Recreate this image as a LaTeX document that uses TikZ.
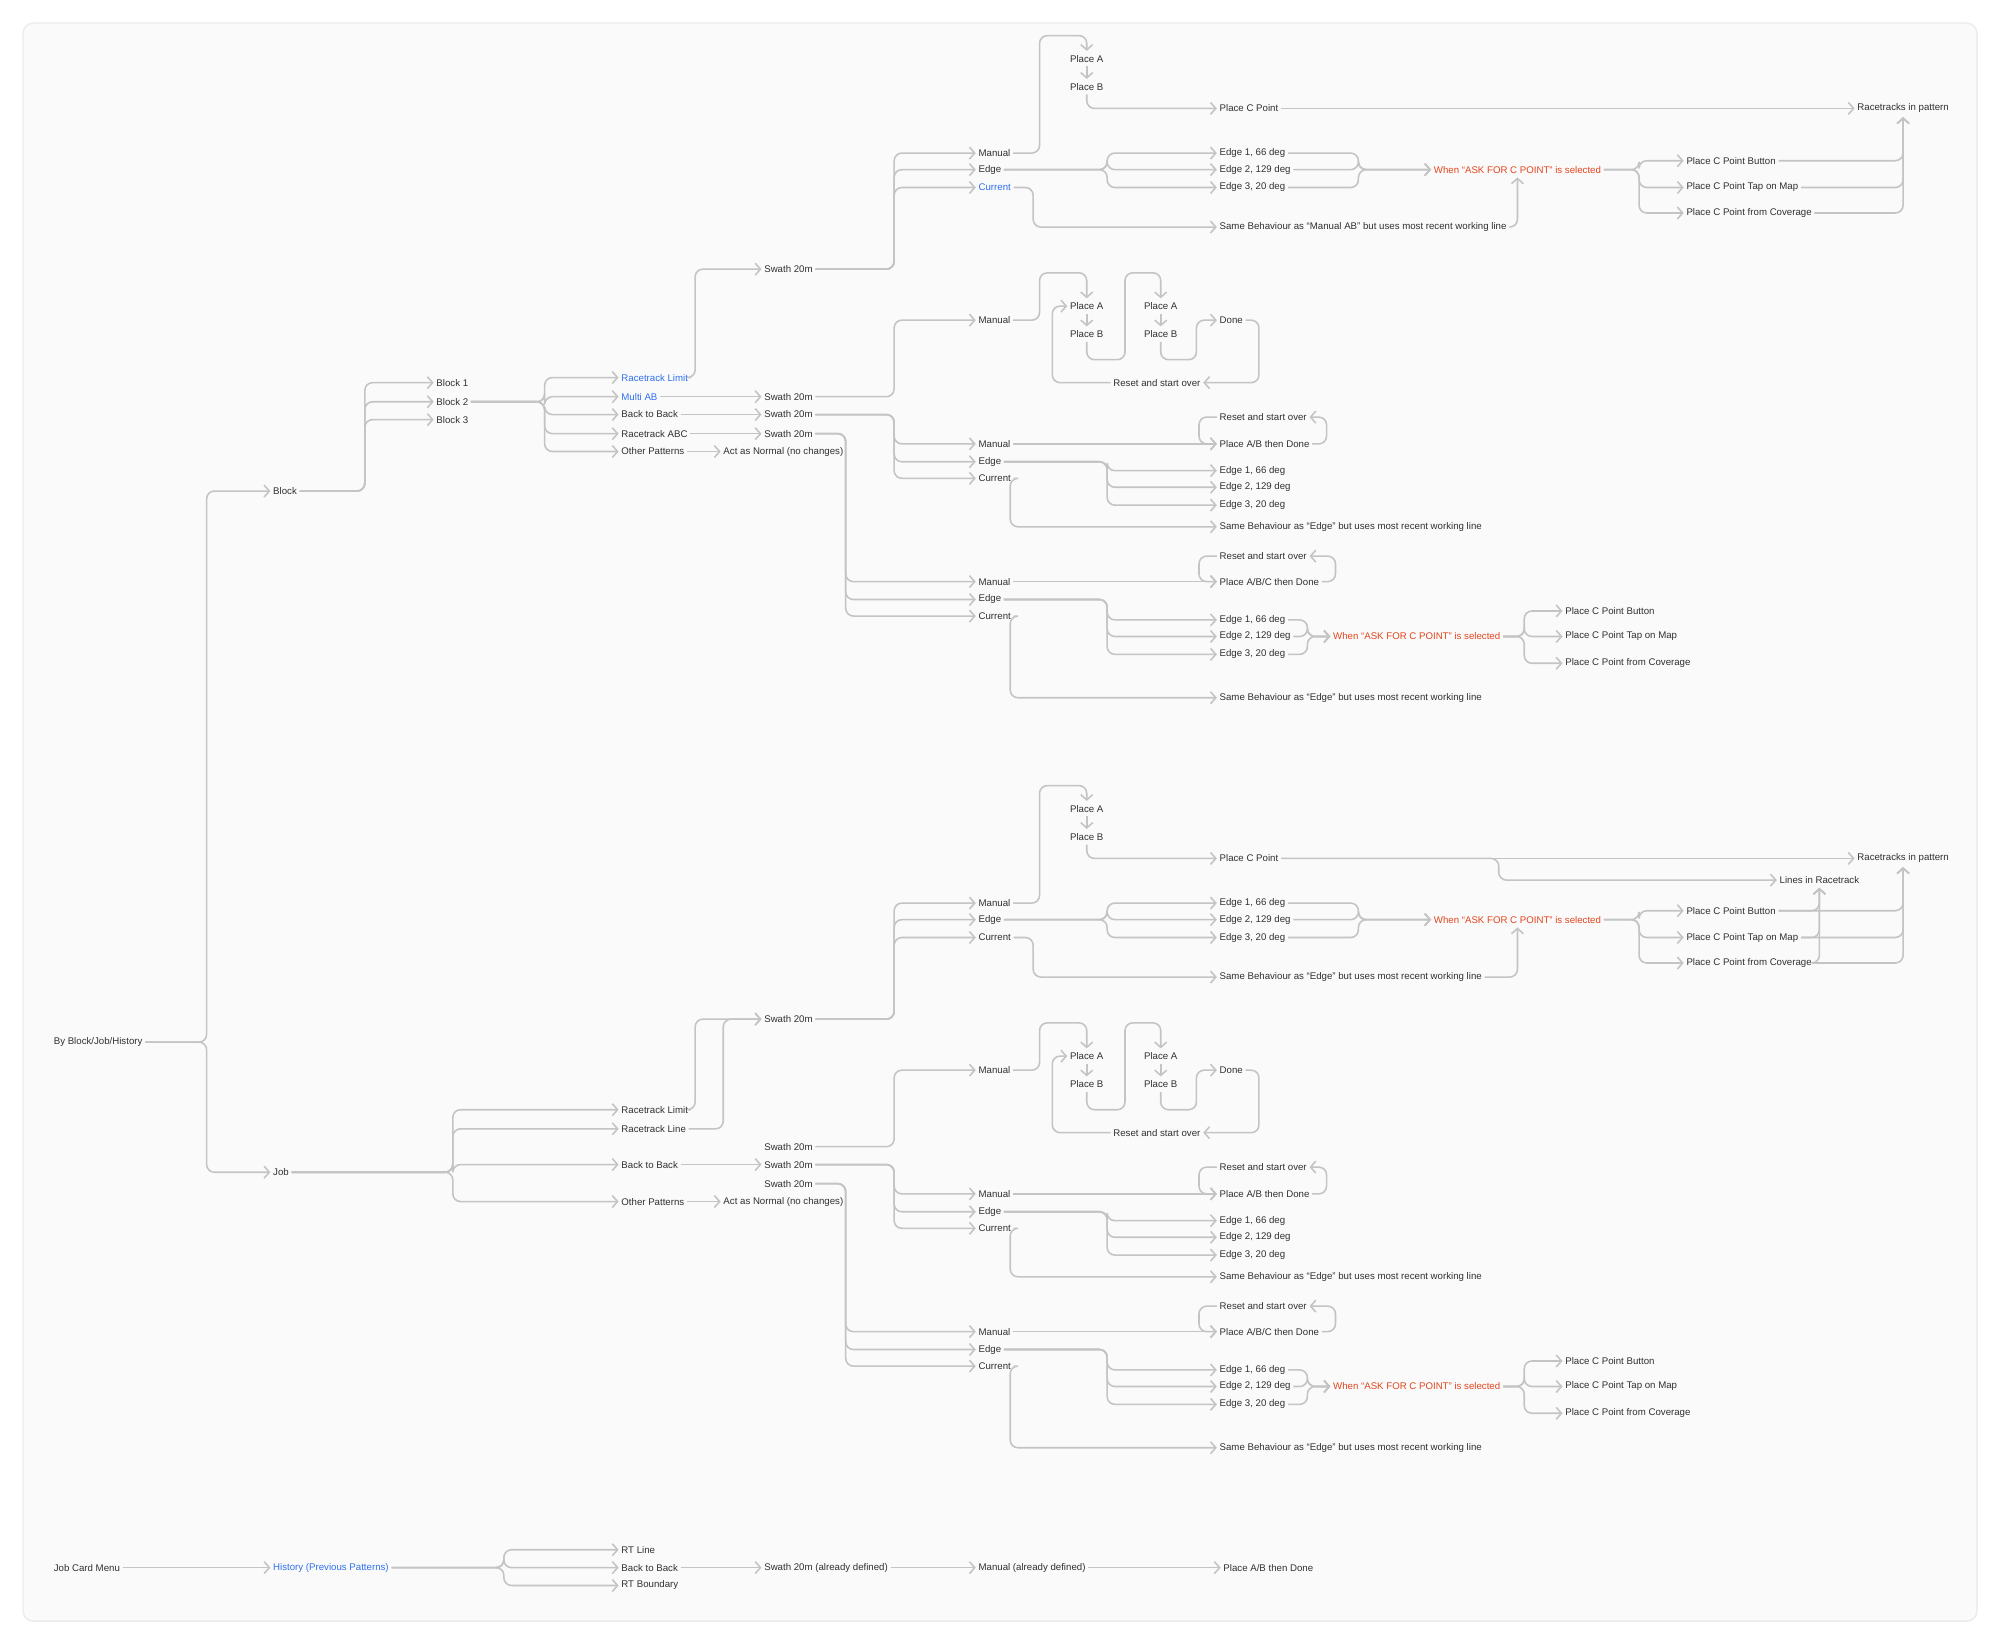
\documentclass[tikz,border=0pt]{standalone}
\usepackage{fontspec}
\setmainfont{Liberation Sans}
\usetikzlibrary{arrows.meta,calc}
\definecolor{linkc}{HTML}{C4C4C4}
\definecolor{txtc}{HTML}{303030}
\definecolor{bluec}{HTML}{2F6FEE}
\definecolor{redc}{HTML}{E2441C}
\definecolor{bgc}{HTML}{FAFAFA}
\definecolor{bdc}{HTML}{ECECEC}
\tikzset{
  lbl/.style={anchor=west,inner xsep=0.6pt,inner ysep=1pt,text=txtc,font=\fontsize{2.75}{3.3}\selectfont},
  mid/.style={lbl,anchor=center},
  link/.style={draw=linkc,line width=0.45pt,rounded corners=2.2pt,-{Straight Barb[length=1.5pt,width=3.4pt]}},
}
% everything right of the swath nodes (drawn twice)
\newcommand{\branches}[2]{%
\node[lbl] (swA) at (597,211) {Swath 20m};
\node[lbl] (swB) at (597,311) {Swath 20m};
\node[lbl] (swC) at (597,325) {Swath 20m};
\node[lbl] (swD) at (597,340) {Swath 20m};
\node[lbl] (act) at (565,354) {Act as Normal (no changes)};
% top: racetrack limit
\node[lbl] (tMan) at (765,120) {Manual};
\node[lbl] (tEdge) at (765,133) {Edge};
\node[lbl,text=#1] (tCur) at (765,147) {Current};
\foreach \c in {tMan,tEdge,tCur} \draw[link] (swA.east) -- (701,211) |- (\c.west);
\node[mid] (tPa) at (852,46) {Place A};
\node[mid] (tPb) at (852,68) {Place B};
\node[lbl] (tPc) at (954,85) {Place C Point};
\node[lbl] (tRp) at (1454,85) {Racetracks in pattern};
\draw[link] (tMan.east) -- (815,120) |- ($(tPa.north)+(0,-12)$) -- (tPa.north);
\draw[link] (tPa.south) -- (tPb.north);
\draw[link] (tPb.south) |- (tPc.west);
\draw[link] (tPc.east) -- (tRp.west);
\node[lbl] (tE1) at (954,120) {Edge 1, 66 deg};
\node[lbl] (tE2) at (954,133) {Edge 2, 129 deg};
\node[lbl] (tE3) at (954,147) {Edge 3, 20 deg};
\foreach \c in {tE1,tE2,tE3} \draw[link] (tEdge.east) -- (868,133) |- (\c.west);
\node[lbl,text=redc] (tAsk) at (1122,133) {When “ASK FOR C POINT” is selected};
\foreach \c in {tE1,tE2,tE3} \draw[link] (\c.east) -| (1065,133) -- (tAsk.west);
\node[lbl] (tSame) at (954,178) {Same Behaviour as “#2” but uses most recent working line};
\draw[link] (tCur.east) -- (810,147) |- (tSame.west);
\draw[link] (tSame.east) -| (tAsk.south);
\node[lbl] (tB1) at (1320,126) {Place C Point Button};
\node[lbl] (tB2) at (1320,147) {Place C Point Tap on Map};
\node[lbl] (tB3) at (1320,167) {Place C Point from Coverage};
\foreach \c in {tB1,tB2,tB3} {
  \draw[link] (tAsk.east) -- (1285,133) |- (\c.west);
  \draw[link] (\c.east) -| (tRp.south);
}
% multi ab
\node[lbl] (mMan) at (765,251) {Manual};
\draw[link] (swB.east) -- (701,311) |- (mMan.west);
\node[mid] (mPa) at (852,240) {Place A};
\node[mid] (mPb) at (852,262) {Place B};
\node[mid] (mPa2) at (910,240) {Place A};
\node[mid] (mPb2) at (910,262) {Place B};
\node[lbl] (mDone) at (954,251) {Done};
\node[mid] (mRs) at (907,300) {Reset and start over};
\draw[link] (mMan.east) -- (815,251) |- ($(mPa.north)+(0,-20)$) -- (mPa.north);
\draw[link] (mPa.south) -- (mPb.north);
\draw[link] (mPb.south) |- (882,282) |- ($(mPa2.north)+(0,-20)$) -- (mPa2.north);
\draw[link] (mPa2.south) -- (mPb2.north);
\draw[link] (mPb2.south) |- (938,282) |- (mDone.west);
\draw[link] (mDone.east) -| (987,300) -- (mRs.east);
\draw[link] (mRs.west) -| (825,240) -- (mPa.west);
% back to back
\node[lbl] (kMan) at (765,348) {Manual};
\node[lbl] (kEdge) at (765,362) {Edge};
\node[lbl] (kCur) at (765,375) {Current};
\foreach \c in {kMan,kEdge,kCur} \draw[link] (swC.east) -- (701,325) |- (\c.west);
\node[lbl] (kPd) at (954,348) {Place A/B then Done};
\node[lbl] (kRs) at (954,327) {Reset and start over};
\draw[link] (kMan.east) -- (kPd.west);
\draw[link] (kPd.east) -| (1040,327) -- (kRs.east);
\draw[link] (kRs.west) -| (940,348) -- (kPd.west);
\node[lbl] (kE1) at (954,369) {Edge 1, 66 deg};
\node[lbl] (kE2) at (954,382) {Edge 2, 129 deg};
\node[lbl] (kE3) at (954,396) {Edge 3, 20 deg};
\foreach \c in {kE1,kE2,kE3} \draw[link] (kEdge.east) -- (868,362) |- (\c.west);
\node[lbl] (kSame) at (954,413) {Same Behaviour as “Edge” but uses most recent working line};
\draw[link] (kCur.east) -- (792,375) |- (kSame.west);
% racetrack abc
\node[lbl] (rMan) at (765,456) {Manual};
\node[lbl] (rEdge) at (765,470) {Edge};
\node[lbl] (rCur) at (765,483) {Current};
\foreach \c in {rMan,rEdge,rCur} \draw[link] (swD.east) -- (663,340) |- (\c.west);
\node[lbl] (rPd) at (954,456) {Place A/B/C then Done};
\node[lbl] (rRs) at (954,436) {Reset and start over};
\draw[link] (rMan.east) -- (rPd.west);
\draw[link] (rPd.east) -| (1047,436) -- (rRs.east);
\draw[link] (rRs.west) -| (940,456) -- (rPd.west);
\node[lbl] (rE1) at (954,486) {Edge 1, 66 deg};
\node[lbl] (rE2) at (954,499) {Edge 2, 129 deg};
\node[lbl] (rE3) at (954,513) {Edge 3, 20 deg};
\foreach \c in {rE1,rE2,rE3} \draw[link] (rEdge.east) -- (868,470) |- (\c.west);
\node[lbl,text=redc] (rAsk) at (1043,499) {When “ASK FOR C POINT” is selected};
\foreach \c in {rE1,rE2,rE3} \draw[link] (\c.east) -| (1025,499) -- (rAsk.west);
\node[lbl] (rB1) at (1225,479) {Place C Point Button};
\node[lbl] (rB2) at (1225,499) {Place C Point Tap on Map};
\node[lbl] (rB3) at (1225,520) {Place C Point from Coverage};
\foreach \c in {rB1,rB2,rB3} \draw[link] (rAsk.east) -- (1195,499) |- (\c.west);
\node[lbl] (rSame) at (954,547) {Same Behaviour as “Edge” but uses most recent working line};
\draw[link] (rCur.east) -- (792,483) |- (rSame.west);
}
\begin{document}
\begin{tikzpicture}[x=0.012755cm,y=-0.012755cm]
\useasboundingbox (0,0) rectangle (1568,1290);
\fill[fill=bgc,draw=bdc,line width=0.4pt,rounded corners=3pt] (18,18) rectangle (1550,1271);
% left part
\node[lbl] (bbh) at (40,817) {By Block/Job/History};
\node[lbl] (blk) at (212,385) {Block};
\node[lbl] (job) at (212,919) {Job};
\foreach \c in {blk,job} \draw[link] (bbh.east) -- (162,817) |- (\c.west);
\node[lbl] (b1) at (340,300) {Block 1};
\node[lbl] (b2) at (340,315) {Block 2};
\node[lbl] (b3) at (340,329) {Block 3};
\foreach \c in {b1,b2,b3} \draw[link] (blk.east) -- (286,385) |- (\c.west);
\node[lbl,text=bluec] (rl) at (485,296) {Racetrack Limit};
\node[lbl,text=bluec] (mab) at (485,311) {Multi AB};
\node[lbl] (btb) at (485,325) {Back to Back};
\node[lbl] (rabc) at (485,340) {Racetrack ABC};
\node[lbl] (oth) at (485,354) {Other Patterns};
\foreach \c in {rl,mab,btb,rabc,oth} \draw[link] (b2.east) -- (427,315) |- (\c.west);
\branches{bluec}{Manual AB}
\draw[link] (rl.east) -- (545,296) |- (swA.west);
\draw[link] (mab.east) -- (swB.west);
\draw[link] (btb.east) -- (swC.west);
\draw[link] (rabc.east) -- (swD.west);
\draw[link] (oth.east) -- (act.west);
% job
\begin{scope}[shift={(0,588)}]
\branches{txtc}{Edge}
\node[lbl] (lr) at (1393,102) {Lines in Racetrack};
\draw[link] (tPc.east) -- (1175,85) |- (lr.west);
\foreach \c in {tB1,tB2,tB3} \draw[link] (\c.east) -| (lr.south);
\end{scope}
\node[lbl] (jrl) at (485,870) {Racetrack Limit};
\node[lbl] (jrline) at (485,885) {Racetrack Line};
\node[lbl] (jbtb) at (485,913) {Back to Back};
\node[lbl] (joth) at (485,942) {Other Patterns};
\foreach \c in {jrl,jrline,jbtb,joth} \draw[link] (job.east) -- (355,919) |- (\c.west);
\draw[link] (jrl.east) -- (545,870) |- (swA.west);
\draw[link] (jrline.east) -- (567,885) |- (swA.west);
\draw[link] (jbtb.east) -- (swC.west);
\draw[link] (joth.east) -- (act.west);
% job card menu
\node[lbl] (jcm) at (40,1229) {Job Card Menu};
\node[lbl,text=bluec] (hist) at (212,1229) {History (Previous Patterns)};
\draw[link] (jcm.east) -- (hist.west);
\node[lbl] (rtl) at (485,1215) {RT Line};
\node[lbl] (hb) at (485,1229) {Back to Back};
\node[lbl] (rtb) at (485,1243) {RT Boundary};
\foreach \c in {rtl,hb,rtb} \draw[link] (hist.east) -- (395,1229) |- (\c.west);
\node[lbl] (hsw) at (597,1229) {Swath 20m (already defined)};
\node[lbl] (hman) at (765,1229) {Manual (already defined)};
\node[lbl] (hpd) at (957,1229) {Place A/B then Done};
\draw[link] (hb.east) -- (hsw.west);
\draw[link] (hsw.east) -- (hman.west);
\draw[link] (hman.east) -- (hpd.west);
\end{tikzpicture}
\end{document}
